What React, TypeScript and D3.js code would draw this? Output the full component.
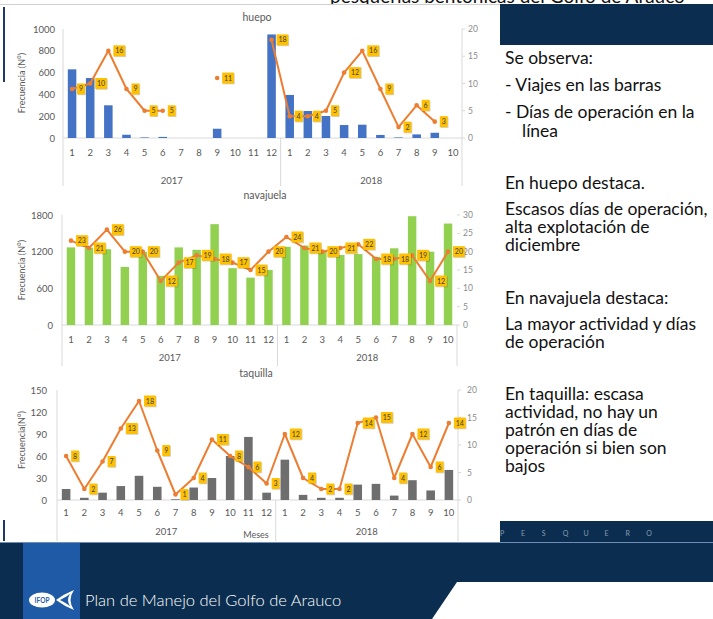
import React from 'react';
import * as d3 from 'd3';

// months of the two seasons (2017: 1-12, 2018: 1-10)
const months = ['1','2','3','4','5','6','7','8','9','10','11','12','1','2','3','4','5','6','7','8','9','10'];
const years = [{ label: '2017', n: 12 }, { label: '2018', n: 10 }];

// viajes (bars, left axis) and dias de operacion (line, right axis)
const huepoViajes = [630, 550, 300, 30, 5, 10, 0, 0, 85, 0, 0, 950, 395, 248, 202, 119, 122, 28, 5, 33, 48, 0];
const huepoDias = [9, 10, 16, 9, 5, 5, null, null, 11, null, null, 18, 4, 4, 5, 12, 16, 9, 2, 6, 3, null];

const navajuelaViajes = [1270, 1265, 1240, 950, 1195, 805, 1270, 1230, 1650, 930, 775, 900, 1280, 1300, 1200, 1145, 1160, 1115, 1255, 1780, 1200, 1660];
const navajuelaDias = [23, 21, 26, 20, 20, 12, 17, 19, 18, 17, 15, 20, 24, 21, 20, 21, 22, 18, 18, 19, 12, 20];

const taquillaViajes = [15, 3, 10, 19, 33, 18, 1, 17, 30, 60, 86, 10, 55, 7, 3, 3, 21, 22, 6, 27, 13, 41];
const taquillaDias = [8, 2, 7, 13, 18, 9, 1, 4, 11, 8, 6, 3, 12, 4, 2, 2, 14, 15, 4, 12, 6, 14];

const notes = [
  { t: 'Se observa:', x: 505, y: 64 },
  { t: '-  Viajes en las barras', x: 505, y: 91 },
  { t: '-  Días de operación en la', x: 505, y: 118 },
  { t: 'línea', x: 522, y: 137 },
  { t: 'En huepo destaca.', x: 505, y: 189 },
  { t: 'Escasos días de operación,', x: 505, y: 215 },
  { t: 'alta explotación de', x: 505, y: 233 },
  { t: 'diciembre', x: 505, y: 251 },
  { t: 'En navajuela destaca:', x: 505, y: 304 },
  { t: 'La mayor actividad y días', x: 505, y: 330 },
  { t: 'de operación', x: 505, y: 348 },
  { t: 'En taquilla: escasa', x: 505, y: 400 },
  { t: 'actividad, no hay un', x: 505, y: 418 },
  { t: 'patrón en días de', x: 505, y: 436 },
  { t: 'operación si bien son', x: 505, y: 454 },
  { t: 'bajos', x: 505, y: 472 },
];

const pesquero = ['P', 'E', 'S', 'Q', 'U', 'E', 'R', 'O'];

const FONT = 'Lato, "Open Sans", sans-serif';
const AXIS = '#595959';
const GRID = '#d9d9d9';
const ORANGE = '#ED7D31';

type ComboProps = {
  title: string; titleX: number; titleY: number;
  x0: number; x1: number; yTop: number; yBase: number; bottom: number;
  leftMax: number; leftStep: number; rightMax: number; rightStep: number;
  bars: number[]; line: (number | null)[]; barColor: string;
  leftLabelX: number; rightLabelX: number; axisTitle: string; axisTitleY: number;
  monthY: number; yearY: number; rightLine: boolean; meses?: { x: number; y: number };
};

const Combo = (p: ComboProps) => {
  const x = d3.scaleBand<number>().domain(d3.range(months.length)).range([p.x0, p.x1]);
  const step = x.bandwidth();
  const cx = (i: number) => (x(i) as number) + step / 2;
  const yL = d3.scaleLinear().domain([0, p.leftMax]).range([p.yBase, p.yTop]);
  const yR = d3.scaleLinear().domain([0, p.rightMax]).range([p.yBase, p.yTop]);
  const leftTicks = d3.range(0, p.leftMax + 1, p.leftStep);
  const rightTicks = d3.range(0, p.rightMax + 1, p.rightStep);
  const path = d3.line<number | null>()
    .defined(d => d != null)
    .x((d, i) => cx(i))
    .y(d => yR(d as number))(p.line) || '';
  const bw = step * 0.47;
  const seps = [0, years[0].n, months.length].map(k => p.x0 + k * step);

  return (
    <g fontFamily={FONT}>
      <text x={p.titleX} y={p.titleY} textAnchor="middle" fontSize={10.5} fill={AXIS}>{p.title}</text>
      {/* axis lines */}
      <line x1={p.x0} x2={p.x1} y1={p.yBase} y2={p.yBase} stroke={GRID} />
      <line x1={p.x0} x2={p.x0} y1={p.yTop} y2={p.bottom} stroke={GRID} />
      {seps.slice(1).map((s, i) => (
        <line key={i} x1={s} x2={s} y1={p.yBase} y2={p.bottom} stroke={GRID} />
      ))}
      {p.rightLine && <line x1={p.x1} x2={p.x1} y1={p.yTop} y2={p.yBase} stroke={GRID} />}
      {rightTicks.map(t => (
        <g key={t}>
          <line x1={p.x1} x2={p.x1 + 3} y1={yR(t)} y2={yR(t)} stroke={GRID} />
          <text x={p.rightLabelX} y={yR(t) + 3} fontSize={8.5} fill="#8c8c8c">{t}</text>
        </g>
      ))}
      {leftTicks.map(t => (
        <text key={t} x={p.leftLabelX} y={yL(t) + 3.5} textAnchor="end" fontSize={9.5} fill={AXIS}>{t}</text>
      ))}
      <text transform={`translate(25,${p.axisTitleY}) rotate(-90)`} textAnchor="middle" fontSize={9} fill={AXIS}>{p.axisTitle}</text>
      {/* bars */}
      {p.bars.map((v, i) => (
        <rect key={i} x={cx(i) - bw / 2} y={yL(v)} width={bw} height={p.yBase - yL(v)} fill={p.barColor} />
      ))}
      {/* month + year labels */}
      {months.map((m, i) => (
        <text key={i} x={cx(i)} y={p.monthY + 3.5} textAnchor="middle" fontSize={9.5} fill={AXIS}>{m}</text>
      ))}
      {years.map((yy, k) => {
        const start = k === 0 ? 0 : years[0].n;
        return (
          <text key={yy.label} x={p.x0 + (start + yy.n / 2) * step} y={p.yearY + 3.5} textAnchor="middle" fontSize={9.5} fill={AXIS}>{yy.label}</text>
        );
      })}
      {p.meses && <text x={p.meses.x} y={p.meses.y + 3} textAnchor="middle" fontSize={9} fill={AXIS}>Meses</text>}
      {/* line */}
      <path d={path} fill="none" stroke={ORANGE} strokeWidth={2} strokeLinejoin="round" />
      {p.line.map((v, i) => v == null ? null : (
        <circle key={i} cx={cx(i)} cy={yR(v)} r={2.3} fill={ORANGE} />
      ))}
      {p.line.map((v, i) => {
        if (v == null) return null;
        const s = String(v);
        const w = 4 + s.length * 3.9;
        const bx = cx(i) + 5;
        const by = yR(v) - 5.5;
        return (
          <g key={'l' + i}>
            <rect x={bx + 0.8} y={by + 0.8} width={w} height={11} fill="rgba(0,0,0,0.18)" />
            <rect x={bx} y={by} width={w} height={11} fill="#FFC000" />
            <text x={bx + w / 2} y={by + 8} textAnchor="middle" fontSize={7} fill="#404040">{s}</text>
          </g>
        );
      })}
    </g>
  );
};

const App = () => {
  return (
    <svg width={713} height={619} viewBox="0 0 713 619" style={{ position: 'absolute', left: 0, top: 0, background: '#fff' }}>
      <defs>
        <clipPath id="topclip"><rect x={0} y={0} width={713} height={4} /></clipPath>
      </defs>
      <text x={330} y={3} fontFamily={FONT} fontSize={19} fill="#111" clipPath="url(#topclip)">pesquerías bentónicas del Golfo de Arauco</text>
      <line x1={0} x2={500} y1={4.5} y2={4.5} stroke="#d0d0d0" />
      <rect x={500} y={4} width={213} height={41} fill="#0b2e50" />
      <rect x={3} y={7} width={2} height={75} fill="#1f3864" />
      <rect x={3} y={520} width={2} height={21} fill="#1f3864" />

      <Combo title="huepo" titleX={257} titleY={21} x0={63} x1={462} yTop={29} yBase={138} bottom={186}
        leftMax={1000} leftStep={200} rightMax={20} rightStep={5}
        bars={huepoViajes} line={huepoDias} barColor="#4472C4"
        leftLabelX={55} rightLabelX={468} axisTitle="Frecuencia (N°)" axisTitleY={83}
        monthY={152} yearY={180} rightLine={true} />

      <Combo title="navajuela" titleX={265} titleY={199} x0={62} x1={457} yTop={215} yBase={325} bottom={366}
        leftMax={1800} leftStep={600} rightMax={30} rightStep={5}
        bars={navajuelaViajes} line={navajuelaDias} barColor="#92D050"
        leftLabelX={53} rightLabelX={463} axisTitle="Frecuencia (N°)" axisTitleY={270}
        monthY={339} yearY={357} rightLine={false} />

      <Combo title="taquilla" titleX={256} titleY={377} x0={57} x1={458} yTop={390} yBase={500} bottom={541}
        leftMax={150} leftStep={30} rightMax={20} rightStep={5}
        bars={taquillaViajes} line={taquillaDias} barColor="#6E6E6E"
        leftLabelX={47} rightLabelX={467} axisTitle="Frecuencia(N°)" axisTitleY={440}
        monthY={512} yearY={531} rightLine={true} meses={{ x: 256, y: 535 }} />

      {notes.map((n, i) => (
        <text key={i} x={n.x} y={n.y} fontFamily={FONT} fontSize={17.5} fill="#111">{n.t}</text>
      ))}

      {/* footer */}
      <rect x={500} y={521} width={213} height={21} fill="#0b2e50" />
      {pesquero.map((c, i) => (
        <text key={i} x={500 + i * 20.9} y={536} fontFamily={FONT} fontSize={7} fill="#8a9ab0">{c}</text>
      ))}
      <rect x={0} y={542} width={713} height={77} fill="#0b2e50" />
      <line x1={0} x2={713} y1={542.5} y2={542.5} stroke="#6f8db5" />
      <polygon points="457,582 713,582 713,619 432,619" fill="#fff" />
      <rect x={23} y={543} width={57} height={76} fill="#1f5aa6" />
      <g>
        <ellipse cx={42} cy={600} rx={13} ry={7.5} fill="#fff" />
        <text x={42} y={602.5} textAnchor="middle" fontFamily={FONT} fontSize={6.5} fontWeight={700} fill="#1f5aa6">IFOP</text>
        <path d="M56,600 Q64,594 74,590 Q67,600 74,610 Q64,606 56,600 Z" fill="#fff" />
        <path d="M60,600 Q66,597 70,594 Q66,600 70,606 Q66,603 60,600 Z" fill="#1f5aa6" />
      </g>
      <text x={85} y={606} fontFamily={FONT} fontSize={16.5} fill="#fff" fontWeight={300}>Plan de Manejo del Golfo de Arauco</text>
    </svg>
  );
};

export default App;
